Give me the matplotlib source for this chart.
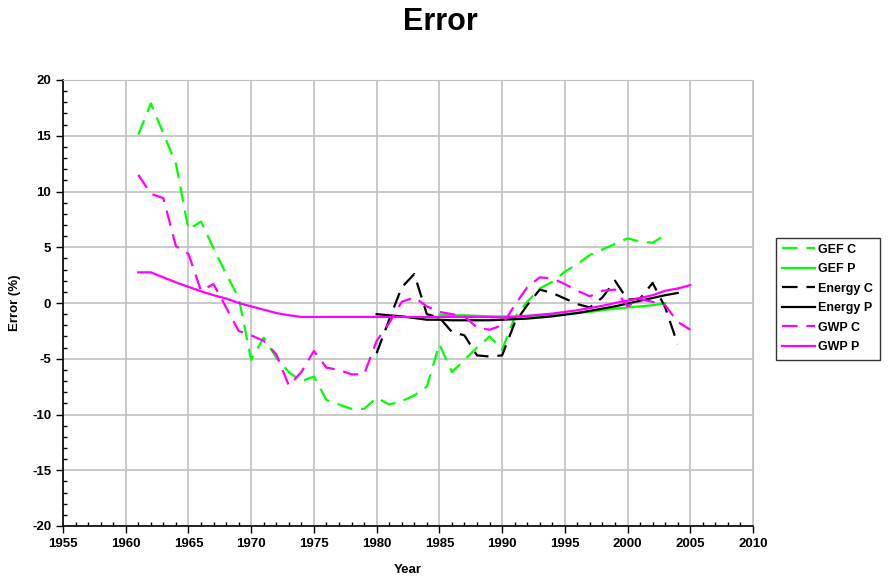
import matplotlib
matplotlib.use("Agg")
import matplotlib.pyplot as plt
from matplotlib.ticker import MultipleLocator

plt.rcParams['font.family'] = ['Liberation Sans', 'DejaVu Sans']
plt.rcParams['axes.unicode_minus'] = False

# ---- data ----
gef_c_years = list(range(1961, 2004))
gef_c = [15.1, 17.9, 15.2, 12.5, 6.6, 7.3, 4.9, 2.6, 0.5, -5.1,
         -3.1, -4.9, -6.2, -7.0, -6.6, -8.7, -9.1, -9.5, -9.5, -8.5,
         -9.1, -8.8, -8.3, -7.5, -3.7, -6.2, -5.1, -4.0, -3.0, -4.2,
         -1.3, 0.1, 1.3, 1.9, 2.8, 3.5, 4.3, 4.8, 5.3, 5.8,
         5.5, 5.4, 6.1]

gef_p_years = list(range(1985, 2004))
gef_p = [-1.05, -1.1, -1.1, -1.15, -1.2, -1.2, -1.2, -1.2, -1.15, -1.1,
         -1.0, -0.9, -0.8, -0.65, -0.5, -0.4, -0.3, -0.2, 0.0]

energy_c_years = list(range(1980, 2005))
energy_c = [-4.5, -1.5, 1.4, 2.6, -1.0, -1.3, -2.6, -2.9, -4.7, -4.8,
            -4.7, -1.8, -0.2, 1.2, 0.9, 0.4, -0.1, -0.4, 0.5, 2.0,
            0.3, 0.4, 1.8, -0.4, -3.7]

energy_p_years = list(range(1980, 2005))
energy_p = [-1.0, -1.1, -1.2, -1.35, -1.5, -1.5, -1.55, -1.55, -1.55, -1.55,
            -1.5, -1.45, -1.4, -1.3, -1.2, -1.05, -0.9, -0.7, -0.5, -0.3,
            -0.05, 0.2, 0.45, 0.7, 0.9]

gwp_c_years = list(range(1961, 2006))
gwp_c = [11.5, 9.8, 9.4, 5.1, 4.4, 1.1, 1.7, -0.4, -2.5, -2.9,
         -3.4, -4.6, -7.4, -6.2, -4.3, -5.8, -6.0, -6.4, -6.4, -3.4,
         -1.8, 0.1, 0.5, -0.3, -0.8, -1.0, -1.2, -2.2, -2.4, -2.0,
         -0.2, 1.4, 2.3, 2.2, 1.7, 1.1, 0.6, 1.1, 1.2, -0.3,
         0.35, 0.1, -0.2, -1.7, -2.4]

gwp_p_years = list(range(1961, 2006))
gwp_p = [2.75, 2.75, 2.3, 1.85, 1.45, 1.05, 0.7, 0.4, 0.0, -0.3,
         -0.6, -0.9, -1.1, -1.25, -1.25, -1.25, -1.25, -1.25, -1.25, -1.25,
         -1.25, -1.25, -1.25, -1.25, -1.25, -1.25, -1.25, -1.25, -1.25, -1.3,
         -1.25, -1.15, -1.05, -0.95, -0.8, -0.65, -0.45, -0.25, 0.0, 0.2,
         0.45, 0.7, 1.1, 1.3, 1.6]

title = "Error"
x_label = "Year"
y_label = "Error (%)"

# ---- figure ----
fig = plt.figure(figsize=(8.9, 5.79), dpi=100)
ax = fig.add_axes([63/890, 1-526/579, 690/890, 446/579])

GREEN = '#00ff00'
MAG = '#ff00ff'
lw = 1.6
dash = (7, 4)

ax.plot(gef_c_years, gef_c, color=GREEN, lw=lw, dashes=dash, label='GEF C')
ax.plot(gef_p_years, gef_p, color=GREEN, lw=lw, label='GEF P')
ax.plot(energy_c_years, energy_c, color='black', lw=lw, dashes=dash, label='Energy C')
ax.plot(energy_p_years, energy_p, color='black', lw=lw, label='Energy P')
ax.plot(gwp_c_years, gwp_c, color=MAG, lw=lw, dashes=dash, label='GWP C')
ax.plot(gwp_p_years, gwp_p, color=MAG, lw=lw, label='GWP P')

ax.set_xlim(1955, 2010)
ax.set_ylim(-20, 20)
ax.xaxis.set_major_locator(MultipleLocator(5))
ax.xaxis.set_minor_locator(MultipleLocator(1))
ax.yaxis.set_major_locator(MultipleLocator(5))
ax.yaxis.set_minor_locator(MultipleLocator(1))
ax.grid(True, which='major', color='#c0c0c0', lw=1.2)
ax.set_axisbelow(True)

for s in ['top', 'right']:
    ax.spines[s].set_color('#c0c0c0')
for s in ['left', 'bottom']:
    ax.spines[s].set_color('black')
    ax.spines[s].set_linewidth(1.2)

ax.tick_params(which='major', direction='out', length=5, width=1, labelsize=9.5)
ax.tick_params(which='minor', direction='in', length=3, width=1)
for lab in ax.get_xticklabels() + ax.get_yticklabels():
    lab.set_fontweight('bold')

ax.set_xlabel(x_label, fontsize=9.5, fontweight='bold', labelpad=10)
ax.set_ylabel(y_label, fontsize=9.5, fontweight='bold', labelpad=8)

fig.text(440/890, 1-22/579, title, fontsize=22, fontweight='bold', ha='center', va='center')

leg = ax.legend(loc='center left', bbox_to_anchor=(776/890, 1-298.5/579),
                bbox_transform=fig.transFigure, frameon=True, fancybox=False,
                edgecolor='black', handlelength=2.6, handletextpad=0.3,
                borderpad=0.5, labelspacing=0.6, borderaxespad=0,
                prop={'weight': 'bold', 'size': 9})
leg.get_frame().set_linewidth(1.0)

fig.savefig('out.png', dpi=100)
